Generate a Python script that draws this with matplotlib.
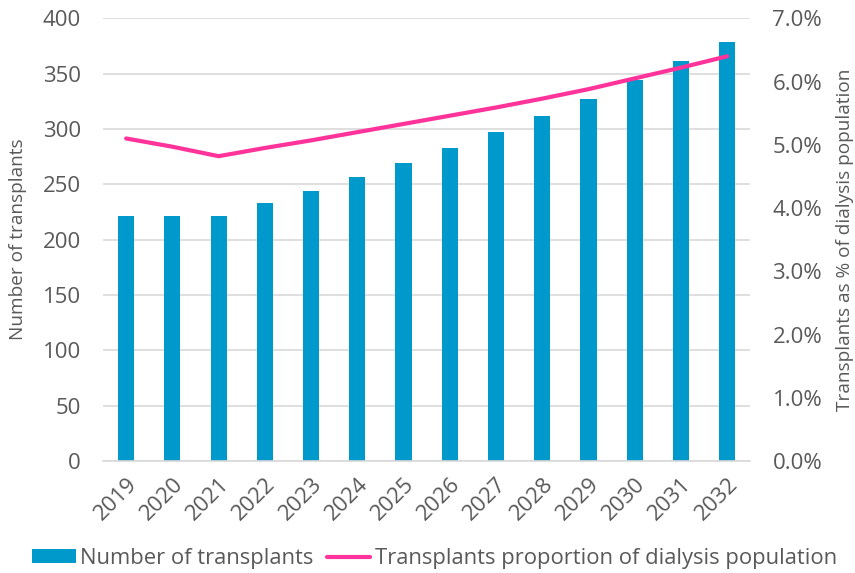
import matplotlib.pyplot as plt
from matplotlib.ticker import FuncFormatter

years = ["2019", "2020", "2021", "2022", "2023", "2024", "2025",
         "2026", "2027", "2028", "2029", "2030", "2031", "2032"]
transplants = [221, 221, 221, 233, 244, 257, 269, 283, 297, 312, 327, 344, 361, 379]
pct_dialysis = [5.10, 4.97, 4.82, 4.95, 5.07, 5.20, 5.33, 5.46, 5.59, 5.73, 5.88, 6.05, 6.22, 6.40]

BAR_COLOR = "#0099CC"
LINE_COLOR = "#FF3399"
TEXT_COLOR = "#595959"
GRID_COLOR = "#D9D9D9"

plt.rcParams["font.family"] = ["Open Sans", "DejaVu Sans"]

fig = plt.figure(figsize=(8.55, 5.73), dpi=100)
ax = fig.add_axes([0.1205, 0.1955, 0.757, 0.7725])
ax2 = ax.twinx()

x = range(len(years))
bars = ax.bar(x, transplants, width=0.35, color=BAR_COLOR, zorder=2,
              label="Number of transplants")
line, = ax2.plot(x, pct_dialysis, color=LINE_COLOR, lw=3.0,
                 solid_capstyle="round",
                 label="Transplants proportion of dialysis population")

ax.set_xlim(-0.5, len(years) - 0.5)
ax.set_ylim(0, 400)
ax.set_yticks(range(0, 401, 50))
ax2.set_ylim(0, 7)
ax2.set_yticks(list(range(8)))
ax2.yaxis.set_major_formatter(FuncFormatter(lambda v, p: f"{v:.1f}%"))

ax.yaxis.grid(True, color=GRID_COLOR, lw=1.2, zorder=0)
ax.set_axisbelow(True)
for a in (ax, ax2):
    for s in a.spines.values():
        s.set_visible(False)
    a.tick_params(length=0, labelsize=16, colors=TEXT_COLOR, pad=16)
ax.spines["bottom"].set_visible(True)
ax.spines["bottom"].set_color(GRID_COLOR)
ax.spines["bottom"].set_linewidth(1.2)

ax.set_xticks(list(x))
ax.set_xticklabels(years, rotation=45, ha="right", rotation_mode="anchor")
ax.tick_params(axis="x", pad=9)

ax.set_ylabel("Number of transplants", fontsize=13.7, color=TEXT_COLOR)
ax.yaxis.set_label_coords(-0.117, 0.5)
ax2.set_ylabel("Transplants as % of dialysis population", fontsize=13.7,
               color=TEXT_COLOR)
ax2.yaxis.set_label_coords(1.132, 0.5)

fig.legend([bars, line], [bars.get_label(), line.get_label()],
           loc="center", bbox_to_anchor=(0.508, 0.025), ncol=2, frameon=False,
           fontsize=15.8, labelcolor=TEXT_COLOR, handlelength=2.0,
           handleheight=0.6, handletextpad=0.2, columnspacing=0.6)

fig.savefig("out.png", dpi=100)
